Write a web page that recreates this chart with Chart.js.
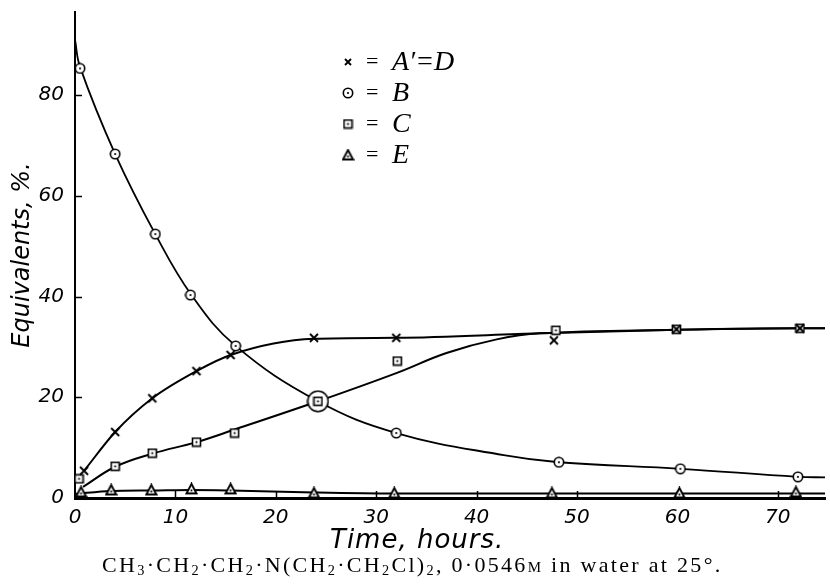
<!DOCTYPE html>
<html>
<head>
<meta charset="utf-8">
<script src="https://cdn.jsdelivr.net/npm/chart.js@4.4.0/dist/chart.umd.min.js"></script>
<style>
  body { margin: 0; background: #fff; }
  #wrap { position: relative; width: 830px; height: 584px; }
  #xTitle { position: absolute; left: 330px; top: 524px; font: italic 26px 'DejaVu Sans'; letter-spacing: 1px; color: #000; white-space: nowrap; }
  #caption { position: absolute; left: 102px; top: 552px; font: 22px 'Liberation Serif'; letter-spacing: 2.3px; color: #000; white-space: nowrap; }
  #caption sub { font-size: 0.65em; vertical-align: -0.2em; line-height: 0; }
  .sc { font-variant: small-caps; }
</style>
</head>
<body>
<div id="wrap">
  <canvas id="kineticsChart" width="830" height="584"></canvas>
  <div id="xTitle">Time, hours.</div>
  <div id="caption">CH<sub>3</sub>·CH<sub>2</sub>·CH<sub>2</sub>·N(CH<sub>2</sub>·CH<sub>2</sub>Cl)<sub>2</sub>, 0·0546<span class="sc">m</span> in water at 25°.</div>
</div>
<script>
// Measured points (time in hours, equivalents %)
const hoursAD = [0.9, 4, 7.7, 12.1, 15.5, 23.8, 32, 47.7, 59.9, 72.2];
const valuesAD = [5.4, 13.1, 19.8, 25.2, 28.4, 31.8, 31.8, 31.3, 33.5, 33.7];
const hoursB = [0.5, 4, 8, 11.5, 16, 24.2, 32, 48.2, 60.3, 72];
const valuesB = [85.3, 68.3, 52.4, 40.3, 30.2, 19.2, 12.9, 7.1, 5.8, 4.2];
const hoursC = [0.4, 4, 7.7, 12.1, 15.9, 24.2, 32.1, 47.9, 59.9, 72.2];
const valuesC = [3.8, 6.3, 8.9, 11.1, 12.9, 19.2, 27.2, 33.3, 33.5, 33.7];
const hoursE = [0.6, 3.6, 7.6, 11.6, 15.5, 23.8, 31.8, 47.5, 60.2, 71.8];
const valuesE = [1.2, 1.6, 1.6, 1.8, 1.8, 1.0, 1.0, 1.0, 1.0, 1.2];

// Smooth curves as drawn on the figure
const curveHoursAD = [0.9, 4, 7.7, 12.1, 15.5, 23.8, 32, 46.3, 59.9, 72.2, 74.7];
const curveValuesAD = [5.4, 13.1, 19.8, 25.2, 28.4, 31.6, 31.8, 32.7, 33.4, 33.7, 33.7];
const curveHoursB = [0, 0.5, 4, 8, 11.6, 16, 24.2, 32, 42.7, 48.2, 60.3, 72, 74.7];
const curveValuesB = [91, 85.6, 68.3, 52.4, 40.3, 30.2, 19.2, 12.9, 8.5, 7.1, 5.8, 4.2, 4.1];
const curveHoursC = [0.8, 4, 7.7, 12.1, 15.9, 24.2, 32, 37, 42, 46.3, 59.9, 72.2, 74.7];
const curveValuesC = [2.2, 6.2, 8.8, 11.1, 13.6, 19.2, 24.8, 28.8, 31.5, 32.7, 33.4, 33.7, 33.7];
const curveHoursE = [0, 3.6, 7.6, 11.6, 15.5, 23.8, 31.8, 47.5, 60.2, 71.8, 74.7];
const curveValuesE = [0.8, 1.4, 1.5, 1.6, 1.5, 1.1, 0.9, 0.9, 0.9, 0.9, 0.9];

// Axis ticks
const xTickStep = 10;
const yTickStep = 20;

const labelAD = 'A\u2032=D';
const labelB = 'B';
const labelC = 'C';
const labelE = 'E';

function toPoints(xs, ys) {
  return xs.map((x, i) => ({ x: x, y: ys[i] }));
}

// little canvases used as point symbols
function makeMarker(kind, size) {
  const c = document.createElement('canvas');
  c.width = size;
  c.height = size;
  const g = c.getContext('2d');
  const m = size / 2;
  g.strokeStyle = '#000';
  g.fillStyle = '#fff';
  g.lineWidth = 1.6;
  if (kind === 'circle') {
    g.beginPath();
    g.arc(m, m, m - 1.3, 0, Math.PI * 2);
    g.fill();
    g.stroke();
  } else if (kind === 'square') {
    g.fillRect(1, 1, size - 2, size - 2);
    g.strokeRect(1.5, 1.5, size - 3, size - 3);
  } else if (kind === 'triangle') {
    g.lineWidth = 1.9;
    g.beginPath();
    g.moveTo(m, 1.5);
    g.lineTo(size - 1.5, size - 2);
    g.lineTo(1.5, size - 2);
    g.closePath();
    g.fill();
    g.stroke();
  } else if (kind === 'cross') {
    g.lineWidth = 1.9;
    g.beginPath();
    g.moveTo(2, 2);
    g.lineTo(size - 2, size - 2);
    g.moveTo(size - 2, 2);
    g.lineTo(2, size - 2);
    g.stroke();
  }
  if (kind !== 'cross' && size < 20) {
    g.fillStyle = '#000';
    g.beginPath();
    g.arc(m, kind === 'triangle' ? m + 1.5 : m, 1.1, 0, Math.PI * 2);
    g.fill();
  }
  return c;
}

const crossMark = makeMarker('cross', 12);
const keyCrossMark = makeMarker('cross', 10);
const circleMark = makeMarker('circle', 12);
const bigCircleMark = makeMarker('circle', 23);
const squareMark = makeMarker('square', 11);
const triangleMark = makeMarker('triangle', 13);

// the B point at 24 h sits on C, drawn as a big ring round it
const circleStyles = hoursB.map((h, i) => (i === 5 ? bigCircleMark : circleMark));

// tick marks point into the plot
const inwardTicks = {
  id: 'inwardTicks',
  beforeDatasetsDraw(chart) {
    const { ctx, chartArea, scales } = chart;
    ctx.save();
    ctx.strokeStyle = '#000';
    ctx.lineWidth = 1.5;
    scales.x.ticks.forEach(t => {
      if (t.value === 0) return;
      const px = Math.round(scales.x.getPixelForValue(t.value)) + 0.5;
      ctx.beginPath();
      ctx.moveTo(px, chartArea.bottom);
      ctx.lineTo(px, chartArea.bottom - 7);
      ctx.stroke();
    });
    scales.y.ticks.forEach(t => {
      if (t.value === 0) return;
      const py = Math.round(scales.y.getPixelForValue(t.value)) + 0.5;
      ctx.beginPath();
      ctx.moveTo(chartArea.left, py);
      ctx.lineTo(chartArea.left + 7, py);
      ctx.stroke();
    });
    ctx.restore();
  }
};

// key written inside the plot, symbol = letter
const keyPlugin = {
  id: 'keyPlugin',
  afterDraw(chart) {
    const ctx = chart.ctx;
    ctx.save();
    ctx.fillStyle = '#000';
    ctx.textBaseline = 'middle';
    chart.data.datasets.forEach(ds => {
      if (ds.keyRow === undefined) return;
      const y = 62 + ds.keyRow * 31;
      const sym = ds.keySymbol;
      ctx.drawImage(sym, 348 - sym.width / 2, y - sym.height / 2);
      ctx.font = '22px "Liberation Serif"';
      ctx.fillText('=', 366, y);
      ctx.font = 'italic 28px "Liberation Serif"';
      ctx.fillText(ds.label, 392, y + 1);
    });
    ctx.restore();
  }
};

const tickFont = { family: 'DejaVu Sans', style: 'italic', size: 20 };

const kineticsChart = new Chart(document.getElementById('kineticsChart'), {
  type: 'scatter',
  data: {
    datasets: [
      { label: labelAD, data: toPoints(hoursAD, valuesAD), pointStyle: crossMark, keySymbol: keyCrossMark, keyRow: 0, order: 1, clip: false },
      { label: labelB, data: toPoints(hoursB, valuesB), pointStyle: circleStyles, keySymbol: circleMark, keyRow: 1, order: 3, clip: false },
      { label: labelC, data: toPoints(hoursC, valuesC), pointStyle: squareMark, keySymbol: squareMark, keyRow: 2, order: 2, clip: false },
      { label: labelE, data: toPoints(hoursE, valuesE), pointStyle: triangleMark, keySymbol: triangleMark, keyRow: 3, order: 2, clip: false },
      { label: 'curve ' + labelAD, data: toPoints(curveHoursAD, curveValuesAD), showLine: true, pointRadius: 0, borderColor: '#000', borderWidth: 2, cubicInterpolationMode: 'monotone', order: 4, clip: false },
      { label: 'curve ' + labelB, data: toPoints(curveHoursB, curveValuesB), showLine: true, pointRadius: 0, borderColor: '#000', borderWidth: 1.8, tension: 0.4, order: 4, clip: false },
      { label: 'curve ' + labelC, data: toPoints(curveHoursC, curveValuesC), showLine: true, pointRadius: 0, borderColor: '#000', borderWidth: 2, tension: 0.4, order: 4, clip: false },
      { label: 'curve ' + labelE, data: toPoints(curveHoursE, curveValuesE), showLine: true, pointRadius: 0, borderColor: '#000', borderWidth: 2, cubicInterpolationMode: 'monotone', order: 4, clip: false }
    ]
  },
  options: {
    responsive: false,
    animation: false,
    layout: { padding: { top: 12, right: 0, bottom: 0, left: 0 } },
    plugins: {
      legend: { display: false },
      tooltip: { enabled: false }
    },
    scales: {
      x: {
        type: 'linear',
        min: 0,
        max: 74.7,
        grid: { display: false, drawTicks: false },
        border: { display: true, color: '#000', width: 3 },
        ticks: { stepSize: xTickStep, includeBounds: false, color: '#000', font: tickFont, padding: 8, maxRotation: 0 },
        afterFit(scale) {
          scale.height = 86;
          scale.paddingLeft = 0;
          scale.paddingRight = 0;
        }
      },
      y: {
        type: 'linear',
        min: 0,
        max: 96.5,
        grid: { display: false, drawTicks: false },
        border: { display: true, color: '#000', width: 2 },
        ticks: { stepSize: yTickStep, includeBounds: false, color: '#000', font: tickFont, padding: 11 },
        title: {
          display: true,
          text: 'Equivalents, %.',
          color: '#000',
          font: { family: 'DejaVu Sans', style: 'italic', size: 24 },
          padding: { top: 8, bottom: 0 }
        },
        afterFit(scale) {
          scale.width = 75;
          scale.paddingTop = 0;
          scale.paddingBottom = 0;
        }
      }
    }
  },
  plugins: [inwardTicks, keyPlugin]
});
</script>
</body>
</html>
